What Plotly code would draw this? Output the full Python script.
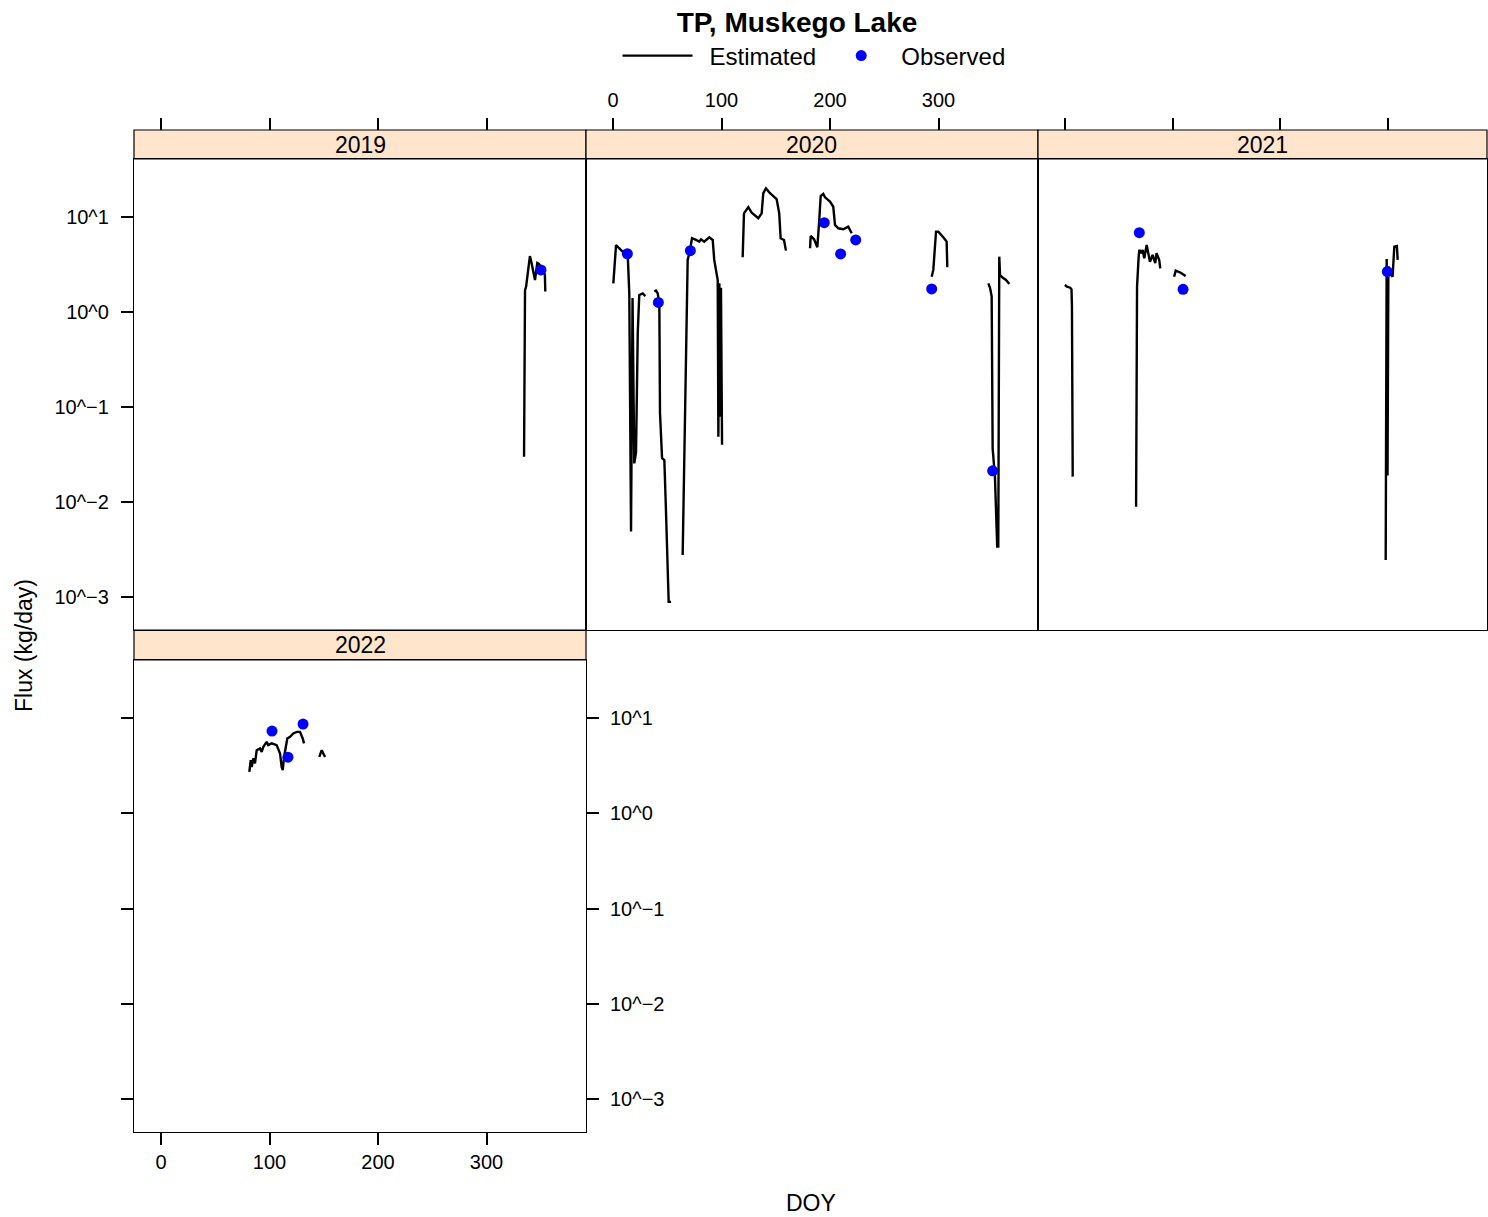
import plotly.graph_objects as go

# ---------------- data (DOY, flux kg/day); None separates line segments ----------------
years = ["2019", "2020", "2021", "2022"]

est_2019_doy = [334.6, 335.5, 336.5, 338.5, 340.0, 341.5, 343.2, 344.7, 346.8, 348.4, 350.5, 352.5, 353.8, 354.2]
est_2019_flux = [0.030, 1.70, 1.85, 2.9, 3.88, 3.3, 2.5, 2.17, 3.28, 3.2, 2.9, 2.7, 2.45, 1.64]
obs_2019_doy = [350.2]
obs_2019_flux = [2.77]

est_2020_doy = [0.3, 2.8, 5.8, 8.9, 13.5, 15.0, 16.6, 18.0, 19.6, 21.2, 22.8, 24.2, 27.4, 29.8, None,
                38.1, 39.6, 41.2, 42.7, 43.3, 45.2, 47.3, 48.2, 48.8, 51.3, 53.5, None,
                64.2, 65.7, 67.3, 68.8, 71.0, 72.8, 76.5, 79.5, 81.1, 84.1, 88.7, 91.9, 93.3, 94.9, 96.5,
                97.1, 98.0, 98.9, 99.5, 100.5, None,
                119.5, 120.7, 124.7, 127.8, 133.9, 137.0, 138.5, 141.0, 144.7, 150.8, 153.2, 154.5, 157.6, 159.4, None,
                181.6, 182.2, 185.3, 188.3, 190.1, 191.4, 193.8, 195.4, 200.0, 203.0, 204.6, 207.6, 212.2, 216.8, 220.0, None,
                293.7, 295.2, 297.7, 299.8, 304.4, 307.5, 308.1, None,
                345.9, 347.5, 349.0, 349.4, 349.9, 352.0, 353.6, 354.1, 355.1, 356.0, 356.7, 359.0, 362.2, 365.3]
est_2020_flux = [2.0, 5.07, 4.68, 4.31, 4.15, 1.57, 0.0049, 1.4, 0.0255, 0.033, 0.60, 1.51, 1.57, 1.47, None,
                 1.64, 1.68, 1.57, 1.23, 0.0865, 0.029, 0.0277, 0.0158, 0.0082, 0.00089, 0.00089, None,
                 0.00277, 0.0326, 0.226, 3.53, 4.5, 5.97, 5.73, 5.5, 5.82, 5.5, 6.11, 5.73, 3.53, 2.77, 2.17,
                 0.0487, 2.0, 0.079, 1.8, 0.04, None,
                 3.77, 10.9, 12.7, 11.1, 9.69, 10.9, 17.8, 20.0, 17.8, 15.4, 10.9, 5.97, 5.73, 4.42, None,
                 4.69, 6.31, 5.82, 4.8, 9.3, 16.6, 17.5, 16.1, 14.5, 12.8, 8.24, 7.6, 7.42, 7.91, 6.74, None,
                 2.35, 2.77, 7.0, 7.0, 6.11, 5.5, 2.96, None,
                 2.0, 1.8, 1.45, 0.19, 0.0367, 0.0185, 0.006, 0.0034, 0.0034, 3.82, 2.45, 2.3, 2.17, 1.97]
obs_2020_doy = [13.2, 41.8, 71.3, 194.7, 209.8, 223.7, 293.7, 349.9]
obs_2020_flux = [4.1, 1.26, 4.42, 8.71, 4.08, 5.73, 1.75, 0.0213]

est_2021_doy = [0.0, 2.0, 5.0, 6.2, 6.6, 7.1, 7.3, None,
                66.1, 66.6, 67.0, 68.5, 69.1, 70.7, 72.2, 73.7, 75.9, 79.0, 81.4, 83.9, 85.1, 87.6, 88.5, None,
                101.4, 102.9, 107.5, 112.1, None,
                297.7, 298.6, 299.4, 300.2, 302.5, 304.1, 305.7, 308.1, 308.8]
est_2021_flux = [1.92, 1.85, 1.8, 1.73, 1.14, 0.0528, 0.0185, None,
                 0.0089, 0.178, 1.85, 3.82, 4.5, 4.15, 4.5, 3.67, 5.07, 3.38, 3.98, 3.26, 4.15, 3.53, 2.88, None,
                 2.35, 2.72, 2.59, 2.39, None,
                 0.00245, 3.6, 0.019, 3.0, 2.5, 2.35, 4.87, 4.95, 3.53]
obs_2021_doy = [69.1, 109.7, 299.2]
obs_2021_flux = [6.84, 1.73, 2.66]

est_2022_doy = [81.4, 82.7, 83.6, 85.0, 86.6, 88.2, 91.2, 92.8, 94.3, 97.4, 98.8, 102.0, 106.6, 109.7, 111.2,
                112.2, 113.4, 116.4, 118.9, 121.9, 125.1, 128.1, 130.6, 131.8, None,
                145.9, 148.1, 151.2]
est_2022_flux = [2.72, 3.61, 3.07, 3.77, 3.34, 4.6, 4.8, 4.42, 4.99, 5.63, 5.2, 5.42, 5.2, 4.25, 3.07,
                 2.84, 3.91, 6.11, 6.35, 6.9, 7.17, 7.17, 6.11, 5.42, None,
                 3.91, 4.6, 3.91]
obs_2022_doy = [102.3, 117.0, 130.9]
obs_2022_flux = [7.3, 3.88, 8.65]

x_ticks = [0, 100, 200, 300]
y_tickvals = [0.001, 0.01, 0.1, 1, 10]
y_ticktext = ["10^\u22123", "10^\u22122", "10^\u22121", "10^0", "10^1"]

est = {"2019": (est_2019_doy, est_2019_flux), "2020": (est_2020_doy, est_2020_flux),
       "2021": (est_2021_doy, est_2021_flux), "2022": (est_2022_doy, est_2022_flux)}
obs = {"2019": (obs_2019_doy, obs_2019_flux), "2020": (obs_2020_doy, obs_2020_flux),
       "2021": (obs_2021_doy, obs_2021_flux), "2022": (obs_2022_doy, obs_2022_flux)}

# ---------------- layout geometry ----------------
W, H = 1488, 1217
FONT = "Liberation Sans, Arial, Helvetica, sans-serif"
STRIP = "#ffe5cc"
px_x = lambda p: p / W
px_y = lambda p: 1 - p / H

xdom = [[px_x(134), px_x(586)], [px_x(586), px_x(1038)], [px_x(1038), px_x(1487)], [px_x(134), px_x(586)]]
ydom_top = [px_y(630), px_y(159)]
ydom_bot = [px_y(1132), px_y(660)]
ydom = [ydom_top, ydom_top, ydom_top, ydom_bot]
xrange_ = [-24.9, 391.7]
yrange_ = [-3.347, 1.61]

fig = go.Figure()
for i, yr in enumerate(years):
    ax = "" if i == 0 else str(i + 1)
    ex, ey = est[yr]
    ox, oy = obs[yr]
    fig.add_trace(go.Scatter(x=ex, y=ey, mode="lines", name="\u2002Estimated",
                             line=dict(color="black", width=2.4), connectgaps=False,
                             showlegend=(i == 0), legendrank=1,
                             xaxis="x" + ax, yaxis="y" + ax))
    fig.add_trace(go.Scatter(x=ox, y=oy, mode="markers", name="Observed",
                             marker=dict(color="#0000ff", size=11),
                             showlegend=(i == 0), legendrank=2,
                             xaxis="x" + ax, yaxis="y" + ax))
# empty traces that activate the extra tick axes (right side of 2022, tops above the strips)
fig.add_trace(go.Scatter(x=[], y=[], xaxis="x4", yaxis="y5", showlegend=False, hoverinfo="skip"))
for k, base in zip((5, 6, 7), ("", "2", "3")):
    fig.add_trace(go.Scatter(x=[], y=[], xaxis="x%d" % k, yaxis="y" + base, showlegend=False, hoverinfo="skip"))

axis_common = dict(showgrid=False, zeroline=False, showline=True, linecolor="black", linewidth=1.2,
                   mirror=True, tickcolor="black", tickwidth=1.5, ticklen=12,
                   tickfont=dict(family=FONT, size=20, color="black"))
layout = {}
for i in range(4):
    ax = "" if i == 0 else str(i + 1)
    layout["xaxis" + ax] = dict(axis_common, domain=xdom[i], range=xrange_, anchor="y" + ax,
                                side="bottom", ticks="outside" if i == 3 else "", tickvals=x_ticks,
                                showticklabels=(i == 3), ticklabelstandoff=0)
    yticks = "outside" if i in (0, 3) else ""
    layout["yaxis" + ax] = dict(axis_common, domain=ydom[i], range=yrange_, type="log", anchor="x" + ax,
                                side="left", ticks=yticks, tickvals=y_tickvals, ticktext=y_ticktext,
                                showticklabels=(i == 0), ticklabelstandoff=8)
# top tick axes sitting above the strips
for k, base, lab in zip((5, 6, 7), ("x", "x2", "x3"), (False, True, False)):
    j = k - 5
    layout["xaxis%d" % k] = dict(axis_common, overlaying=base, anchor="free", position=px_y(130),
                                 domain=xdom[j], side="top", range=xrange_, ticks="outside",
                                 tickvals=x_ticks, showticklabels=lab, showline=False, mirror=False,
                                 ticklabelstandoff=3)
layout["yaxis5"] = dict(axis_common, overlaying="y4", anchor="x4", side="right", range=yrange_, type="log",
                        ticks="outside", tickvals=y_tickvals, ticktext=y_ticktext, showticklabels=True,
                        showline=False, mirror=False, ticklabelstandoff=7)

shapes = []
annotations = []
strip_pos = [(134, 586, 130, 159), (586, 1038, 130, 159), (1038, 1487, 130, 159), (134, 586, 630, 660)]
for yr, (x0, x1, y0, y1) in zip(years, strip_pos):
    shapes.append(dict(type="rect", xref="paper", yref="paper", x0=px_x(x0), x1=px_x(x1),
                       y0=px_y(y1), y1=px_y(y0), fillcolor=STRIP, line=dict(color="black", width=1.2),
                       layer="below"))
    annotations.append(dict(text=yr, xref="paper", yref="paper", x=px_x((x0 + x1) / 2),
                            y=px_y((y0 + y1) / 2), showarrow=False, xanchor="center", yanchor="middle",
                            font=dict(family=FONT, size=23, color="black")))
annotations.append(dict(text="DOY", xref="paper", yref="paper", x=px_x(811), y=px_y(1203),
                        showarrow=False, xanchor="center", yanchor="middle",
                        font=dict(family=FONT, size=23, color="black")))
annotations.append(dict(text="Flux (kg/day)", xref="paper", yref="paper", x=px_x(24), y=px_y(646),
                        showarrow=False, xanchor="center", yanchor="middle", textangle=-90,
                        font=dict(family=FONT, size=23, color="black")))

fig.update_layout(
    width=W, height=H,
    margin=dict(l=0, r=0, t=0, b=0),
    paper_bgcolor="white", plot_bgcolor="white",
    title=dict(text="<b>TP, Muskego Lake</b>", x=px_x(797), y=px_y(22), xanchor="center", yanchor="middle",
               xref="paper", yref="paper", font=dict(family=FONT, size=28, color="black")),
    legend=dict(orientation="h", x=px_x(814), xanchor="center", y=px_y(56), yanchor="middle",
                font=dict(family=FONT, size=24, color="black"), itemwidth=70,
                bgcolor="rgba(0,0,0,0)", traceorder="normal"),
    shapes=shapes, annotations=annotations,
    **layout,
)

fig.write_html(
    "out.html",
    config={"displayModeBar": False},
    post_script="document.body.style.margin='0px';document.body.style.overflow='hidden';"
                "document.documentElement.style.overflow='hidden';",
)
